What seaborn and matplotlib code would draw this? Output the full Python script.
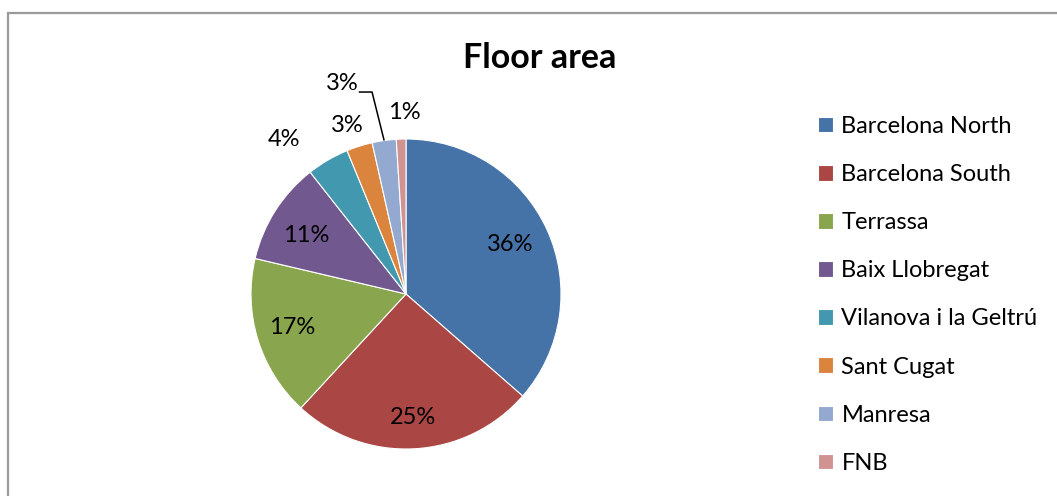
import matplotlib
matplotlib.use("Agg")
import matplotlib.pyplot as plt
import seaborn as sns
import numpy as np
from matplotlib.patches import Rectangle

sns.set_theme(style="white")
plt.rcParams['font.family'] = ['Lato', 'DejaVu Sans']
plt.rcParams['text.color'] = 'black'

categories = ["Barcelona North", "Barcelona South", "Terrassa", "Baix Llobregat",
              "Vilanova i la Geltrú", "Sant Cugat", "Manresa", "FNB"]
values = [36.4, 25.4, 16.8, 10.7, 4.4, 2.7, 2.5, 1.0]
pct_labels = ["36%", "25%", "17%", "11%", "4%", "3%", "3%", "1%"]
colors = ["#4572A7", "#AA4643", "#89A54E", "#71588F",
          "#4198AF", "#DB843D", "#93A9CF", "#D19392"]

W, H = 1057, 496
fig = plt.figure(figsize=(W / 100, H / 100), dpi=100)

# outer frame
fig.patches.append(Rectangle((8 / W, -0.1), 1.2, 1 - 13 / H + 0.1,
                             transform=fig.transFigure, fill=False,
                             edgecolor="#9a9a9a", linewidth=1.6, zorder=0))

cx, cy, r = 406 / W, 1 - 294 / H, 155
ax = fig.add_axes([cx - r / W, cy - r / H, 2 * r / W, 2 * r / H])
wedges, _ = ax.pie(values, colors=colors, startangle=90, counterclock=False,
                   radius=1.0, wedgeprops=dict(linewidth=0.8, edgecolor="white"))
ax.set_xlim(-1, 1)
ax.set_ylim(-1, 1)
ax.set_aspect("equal")
ax.axis("off")

FS = 17
# label placement: (radius, angle shift in degrees); None -> leader line label
placement = [(0.745, 1.2), (0.80, 0.0), (0.767, -0.7), (0.746, 2.1),
             (1.27, 8.0), (1.149, 1.6), None, (1.168, -1.2)]
for i, (w, lab) in enumerate(zip(wedges, pct_labels)):
    mid = (w.theta1 + w.theta2) / 2
    if placement[i] is None:
        ang = np.deg2rad(mid)
        xe, ye = np.cos(ang), np.sin(ang)
        ax.text(-0.413, 1.355, lab, ha="center", va="center", fontsize=FS,
                color="black", clip_on=False)
        ax.plot([-0.305, -0.219, xe], [1.303, 1.303, ye], color="black",
                lw=1.1, clip_on=False, solid_capstyle="butt")
    else:
        rr, shift = placement[i]
        ang = np.deg2rad(mid + shift)
        ax.text(rr * np.cos(ang), rr * np.sin(ang), lab, ha="center", va="center",
                fontsize=FS, color="black", clip_on=False)

fig.text(540 / W, 1 - 58 / H, "Floor area", ha="center", va="center",
         fontsize=24.5, fontweight="bold", color="black")

leg = fig.legend(wedges, categories, loc="upper left",
                 bbox_to_anchor=(806 / W, 1 - 104 / H),
                 frameon=False, fontsize=FS, handlelength=0.65, handleheight=0.65,
                 handletextpad=0.35, labelspacing=1.15, borderpad=0)
for t in leg.get_texts():
    t.set_color("black")

fig.savefig("out.png", dpi=100)
